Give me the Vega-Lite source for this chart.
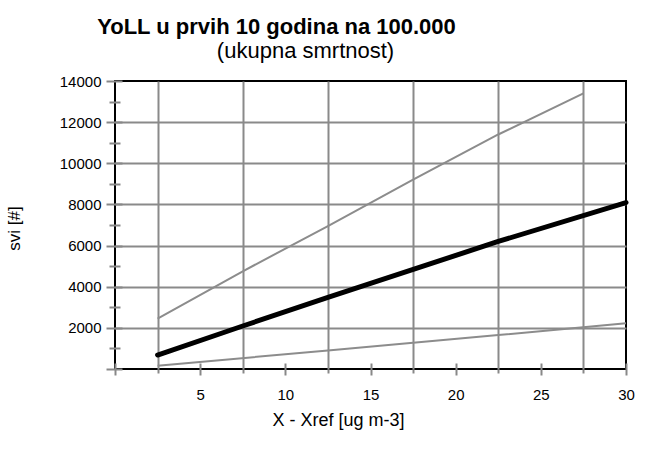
{
  "$schema": "https://vega.github.io/schema/vega-lite/v6.json",
  "width": 511,
  "height": 288,
  "autosize": "none",
  "padding": {"left": 115, "top": 81, "right": 26, "bottom": 97},
  "background": "white",
  "config": {
    "font": "Liberation Sans",
    "view": {"stroke": "#000000", "strokeWidth": 2},
    "axis": {
      "labelFont": "Liberation Sans",
      "titleFont": "Liberation Sans",
      "labelColor": "#000000",
      "titleColor": "#000000",
      "titleFontWeight": "normal",
      "tickColor": "#888888",
      "tickWidth": 2,
      "gridColor": "#8a8a8a",
      "gridWidth": 2,
      "gridOpacity": 1,
      "domain": false
    }
  },
  "title": {
    "text": "YoLL u prvih 10 godina na 100.000",
    "anchor": "middle",
    "frame": "group",
    "dx": -94,
    "offset": 0,
    "font": "Liberation Sans",
    "fontSize": 22,
    "fontWeight": "bold",
    "color": "#000000"
  },
  "data": {
    "values": [
      {"x": 2.5, "y": 2450, "series": "upper"},
      {"x": 7.5, "y": 4750, "series": "upper"},
      {"x": 12.5, "y": 6950, "series": "upper"},
      {"x": 17.5, "y": 9200, "series": "upper"},
      {"x": 22.5, "y": 11400, "series": "upper"},
      {"x": 27.5, "y": 13400, "series": "upper"},
      {"x": 2.5, "y": 160, "series": "lower"},
      {"x": 12.5, "y": 900, "series": "lower"},
      {"x": 22.5, "y": 1650, "series": "lower"},
      {"x": 30, "y": 2220, "series": "lower"},
      {"x": 2.5, "y": 680, "series": "mid"},
      {"x": 7.5, "y": 2090, "series": "mid"},
      {"x": 12.5, "y": 3480, "series": "mid"},
      {"x": 22.5, "y": 6200, "series": "mid"},
      {"x": 30, "y": 8090, "series": "mid"}
    ]
  },
  "layer": [
    {
      "transform": [{"filter": "datum.series == 'upper'"}],
      "mark": {"type": "line", "color": "#8c8c8c", "strokeWidth": 2},
      "encoding": {
        "x": {
          "field": "x", "type": "quantitative",
          "scale": {"domain": [0, 30], "nice": false, "zero": false},
          "axis": {
            "orient": "bottom",
            "values": [2.5, 7.5, 12.5, 17.5, 22.5, 27.5],
            "grid": true,
            "labels": false,
            "ticks": true,
            "tickSize": 4,
            "title": "X - Xref [ug m-3]",
            "titleFontSize": 18,
            "titleX": 223,
            "titleY": 56,
            "titleAlign": "center",
            "titleBaseline": "alphabetic",
            "zindex": 0
          }
        },
        "y": {
          "field": "y", "type": "quantitative",
          "scale": {"domain": [0, 14000], "nice": false},
          "axis": {
            "orient": "left",
            "values": [2000, 4000, 6000, 8000, 10000, 12000],
            "grid": true,
            "labels": false,
            "ticks": false,
            "title": "svi [#]",
            "titleFontSize": 17,
            "titleAngle": -90,
            "titleX": -96,
            "titleY": 147,
            "titleAlign": "center",
            "titleBaseline": "alphabetic",
            "zindex": 0
          }
        }
      }
    },
    {
      "transform": [{"filter": "datum.series == 'lower'"}],
      "mark": {"type": "line", "color": "#8c8c8c", "strokeWidth": 2},
      "encoding": {
        "x": {
          "field": "x", "type": "quantitative",
          "axis": {
            "orient": "bottom",
            "values": [0, 5, 10, 15, 20, 25, 30],
            "grid": false,
            "offset": -6,
            "tickSize": 12,
            "labelFontSize": 15,
            "labelBaseline": "middle",
            "labelPadding": 19,
            "labelExpr": "datum.value == 0 ? '' : datum.label",
            "labelFlush": false,
            "labelOverlap": false,
            "title": null,
            "zindex": 1
          }
        },
        "y": {
          "field": "y", "type": "quantitative",
          "axis": {
            "orient": "left",
            "values": [0, 2000, 4000, 6000, 8000, 10000, 12000, 14000],
            "grid": false,
            "offset": -7,
            "tickSize": 16,
            "labelFontSize": 15,
            "labelPadding": 5,
            "labelFlush": false,
            "labelOverlap": false,
            "format": "d",
            "labelExpr": "datum.value == 0 ? '' : datum.label",
            "title": null,
            "zindex": 1
          }
        }
      }
    },
    {
      "transform": [{"filter": "datum.series == 'mid'"}],
      "mark": {"type": "line", "color": "#000000", "strokeWidth": 5, "strokeCap": "round"},
      "encoding": {
        "x": {
          "field": "x", "type": "quantitative",
          "axis": {
            "orient": "top",
            "grid": false,
            "ticks": false,
            "labels": false,
            "domain": false,
            "title": "(ukupna smrtnost)",
            "titleFontSize": 22,
            "titleX": 190,
            "titleY": -24,
            "titleAlign": "center",
            "titleBaseline": "alphabetic",
            "zindex": 1
          }
        },
        "y": {
          "field": "y", "type": "quantitative",
          "axis": {
            "orient": "left",
            "values": [1000, 3000, 5000, 7000, 9000, 11000, 13000],
            "grid": false,
            "offset": -5,
            "tickSize": 11,
            "labels": false,
            "title": null,
            "zindex": 1
          }
        }
      }
    }
  ],
  "resolve": {"axis": {"x": "independent", "y": "independent"}}
}
